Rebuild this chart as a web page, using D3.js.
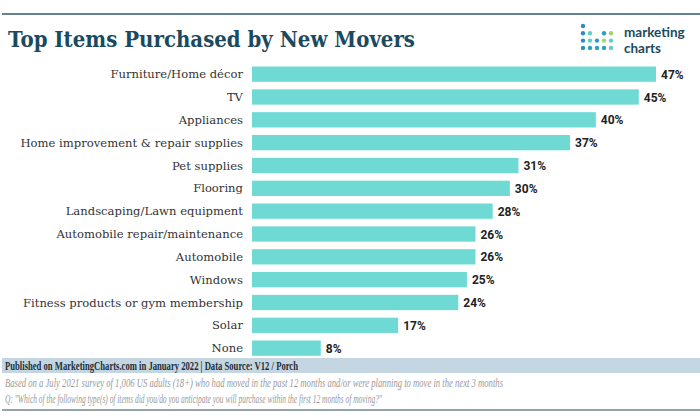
<!DOCTYPE html>
<html><head><meta charset="utf-8">
<script src="https://cdn.jsdelivr.net/npm/d3@7"></script>
<style>body{margin:0;background:#fff;} svg{display:block;}</style>
</head><body>
<script>
const categories = ["Furniture/Home décor","TV","Appliances","Home improvement & repair supplies","Pet supplies","Flooring","Landscaping/Lawn equipment","Automobile repair/maintenance","Automobile","Windows","Fitness products or gym membership","Solar","None"];
const values = [47,45,40,37,31,30,28,26,26,25,24,17,8];
const title = "Top Items Purchased by New Movers";
const footer1 = "Published on MarketingCharts.com in January 2022 | Data Source: V12 / Porch";
const note1 = "Based on a July 2021 survey of 1,006 US adults (18+) who had moved in the past 12 months and/or were planning to move in the next 3 months";
const note2 = "Q: \"Which of the following type(s) of items did you/do you anticipate you will purchase within the first 12 months of moving?\"";

const W = 700, H = 419;
const svg = d3.select("body").append("svg").attr("width", W).attr("height", H);
const dark = "#1b4a5e";

svg.append("line").attr("x1",2).attr("x2",W).attr("y1",14).attr("y2",14).attr("stroke","#2e5a6a").attr("stroke-width",1.5);
svg.append("text").attr("x",8).attr("y",47).text(title)
  .attr("font-family","DejaVu Serif").attr("font-weight","bold").attr("font-size",23)
  .attr("fill",dark).attr("textLength",407).attr("lengthAdjust","spacingAndGlyphs");

// logo
const dotRows = [[1,0,0,0,0],[1,2,0,1,3],[1,2,1,3,2],[1,1,1,1,2]];
dotRows.forEach((row,r)=>row.forEach((c,i)=>{
  if(!c) return;
  const col = r===0||i===0 ? "#2a8fc0" : (c===3 ? "#a4d46c" : (c===2 ? "#5ccfc8" : "#2a9ec8"));
  svg.append("circle").attr("cx",583+i*7).attr("cy",26+r*7.3).attr("r",2.2).attr("fill",col);
}));
svg.append("text").attr("x",624).attr("y",36.5).text("marketing").attr("font-family","Lato").attr("font-weight","bold").attr("font-size",13.5).attr("fill",dark);
svg.append("text").attr("x",624).attr("y",52.5).text("charts").attr("font-family","Lato").attr("font-weight","bold").attr("font-size",13.5).attr("fill",dark);

const x = d3.scaleLinear().domain([0,47]).range([252,656]);
const y = d3.scaleBand().domain(categories).range([66.5,355.8]).paddingInner(0.33).paddingOuter(0);

const g = svg.append("g");
g.selectAll("rect").data(categories).join("rect")
  .attr("x",x(0)).attr("y",d=>y(d)).attr("height",y.bandwidth())
  .attr("width",(d,i)=>x(values[i])-x(0)).attr("fill","#6fdad4");
g.selectAll("text.cat").data(categories).join("text").attr("class","cat")
  .attr("x",243).attr("y",d=>y(d)+y.bandwidth()/2).attr("dy","0.35em")
  .attr("text-anchor","end").text(d=>d)
  .attr("font-family","DejaVu Serif").attr("font-size",11.6).attr("fill","#333");
g.selectAll("text.val").data(categories).join("text").attr("class","val")
  .attr("x",(d,i)=>x(values[i])+5).attr("y",d=>y(d)+y.bandwidth()/2).attr("dy","0.38em")
  .text((d,i)=>values[i]+"%")
  .attr("font-family","Roboto").attr("font-weight","bold").attr("font-size",12).attr("fill","#222");

// footer
svg.append("rect").attr("x",2).attr("y",358).attr("width",W-2).attr("height",15).attr("fill","#c4d6e1");
svg.append("text").attr("x",5).attr("y",369.8).text(footer1)
  .attr("font-family","Liberation Serif").attr("font-weight","bold").attr("font-size",13.5).attr("fill","#1e2e38")
  .attr("textLength",293).attr("lengthAdjust","spacingAndGlyphs");
svg.append("text").attr("x",5).attr("y",387).text(note1)
  .attr("font-family","Liberation Serif").attr("font-style","italic").attr("font-size",11.5).attr("fill","#9a9a9a")
  .attr("textLength",498).attr("lengthAdjust","spacingAndGlyphs");
svg.append("text").attr("x",5).attr("y",403).text(note2)
  .attr("font-family","Liberation Serif").attr("font-style","italic").attr("font-size",11.5).attr("fill","#9a9a9a")
  .attr("textLength",377).attr("lengthAdjust","spacingAndGlyphs");
svg.append("line").attr("x1",2).attr("x2",W).attr("y1",410).attr("y2",410).attr("stroke","#2e4a55").attr("stroke-width",1.2);
</script>
</body></html>
